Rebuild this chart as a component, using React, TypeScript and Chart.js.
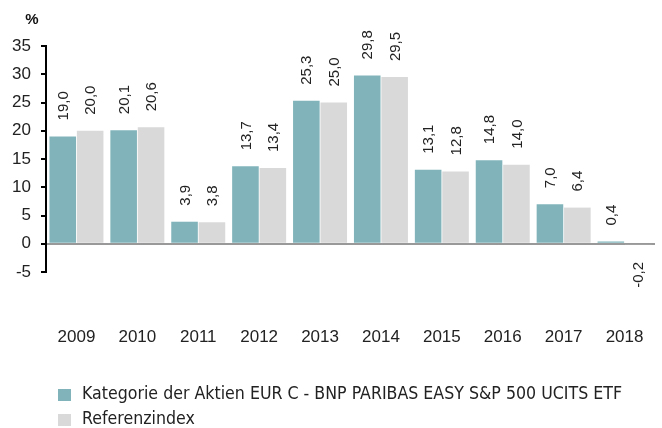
import React, { useEffect, useRef } from "react";
import { Chart, registerables } from "chart.js";

Chart.register(...registerables);

const years = ["2009", "2010", "2011", "2012", "2013", "2014", "2015", "2016", "2017", "2018"];
const fundValues = [19.0, 20.1, 3.9, 13.7, 25.3, 29.8, 13.1, 14.8, 7.0, 0.4];
const indexValues = [20.0, 20.6, 3.8, 13.4, 25.0, 29.5, 12.8, 14.0, 6.4, -0.2];
const seriesNames = ["Kategorie der Aktien EUR C - BNP PARIBAS EASY S&P 500 UCITS ETF", "Referenzindex"];
const seriesColors = ["#80B4BA", "#D9D9D9"];
const unitLabel = "%";

const fmt = (v: number) => v.toFixed(1).replace(".", ",");

const labelPlugin = {
  id: "valueLabels",
  afterDatasetsDraw(chart: any) {
    const ctx = chart.ctx;
    ctx.save();
    ctx.font = "15px 'Liberation Sans', Arial, sans-serif";
    ctx.fillStyle = "#222";
    ctx.textBaseline = "middle";
    chart.data.datasets.forEach((ds: any, di: number) => {
      const meta = chart.getDatasetMeta(di);
      meta.data.forEach((bar: any, i: number) => {
        const v = ds.data[i] as number;
        const props = bar.getProps(["x", "y", "base"], true);
        ctx.save();
        if (v >= 0) {
          ctx.translate(props.x + 1, props.y - 16);
          ctx.rotate(-Math.PI / 2);
          ctx.textAlign = "left";
        } else {
          ctx.translate(props.x + 1, props.y + 17);
          ctx.rotate(-Math.PI / 2);
          ctx.textAlign = "right";
        }
        ctx.fillText(fmt(v), 0, 0);
        ctx.restore();
      });
    });
    // unit label
    ctx.font = "bold 15px 'Liberation Sans', Arial, sans-serif";
    ctx.fillStyle = "#111";
    ctx.textAlign = "center";
    ctx.fillText(unitLabel, 32, 20);
    // legend
    ctx.font = "17px 'DejaVu Sans Condensed', 'Liberation Sans', sans-serif";
    ctx.textAlign = "left";
    const w0 = ctx.measureText(seriesNames[0]).width;
    const sx = 540 / w0;
    seriesNames.forEach((name, k) => {
      const y = 395 + k * 25;
      ctx.fillStyle = seriesColors[k];
      ctx.fillRect(58, y - 6, 13, 12);
      ctx.fillStyle = "#222";
      ctx.save();
      ctx.translate(82, y);
      ctx.scale(sx, 1);
      ctx.fillText(name, 0, 0);
      ctx.restore();
    });
    ctx.restore();
  },
};

export default function App() {
  const ref = useRef<HTMLCanvasElement>(null);
  useEffect(() => {
    document.body.style.margin = "0";
    const chart = new Chart(ref.current!, {
      type: "bar",
      data: {
        labels: years,
        datasets: [
          { label: seriesNames[0], data: fundValues, backgroundColor: seriesColors[0] },
          { label: seriesNames[1], data: indexValues, backgroundColor: seriesColors[1] },
        ],
      },
      options: {
        animation: false,
        responsive: false,
        maintainAspectRatio: false,
        layout: { padding: { top: 46, right: 7, bottom: 80, left: 0 } },
        datasets: { bar: { categoryPercentage: 0.9, barPercentage: 0.97 } },
        plugins: { legend: { display: false }, tooltip: { enabled: false } },
        scales: {
          x: {
            grid: { display: true, drawOnChartArea: false, drawTicks: true, tickLength: 53, tickColor: "rgba(0,0,0,0)" },
            border: { display: false },
            ticks: { padding: 2, color: "#222", font: { size: 17, family: "'Liberation Sans', Arial, sans-serif" } },
            afterFit: (s: any) => { s.height = 76; },
          },
          y: {
            min: -5,
            max: 35,
            ticks: { stepSize: 5, padding: 10, color: "#222", font: { size: 17, family: "'Liberation Sans', Arial, sans-serif" } },
            grid: {
              drawOnChartArea: true,
              color: (c: any) => (c.tick && c.tick.value === 0 ? "#999999" : "rgba(0,0,0,0)"),
              tickColor: "#000",
              tickLength: 5,
              lineWidth: 2,
            },
            border: { display: true, color: "#000", width: 2 },
            afterFit: (s: any) => { s.width = 46; },
          },
        },
      },
      plugins: [labelPlugin],
    });
    return () => chart.destroy();
  }, []);
  return (
    <div style={{ width: 662, height: 428 }}>
      <canvas ref={ref} width={662} height={428} />
    </div>
  );
}
